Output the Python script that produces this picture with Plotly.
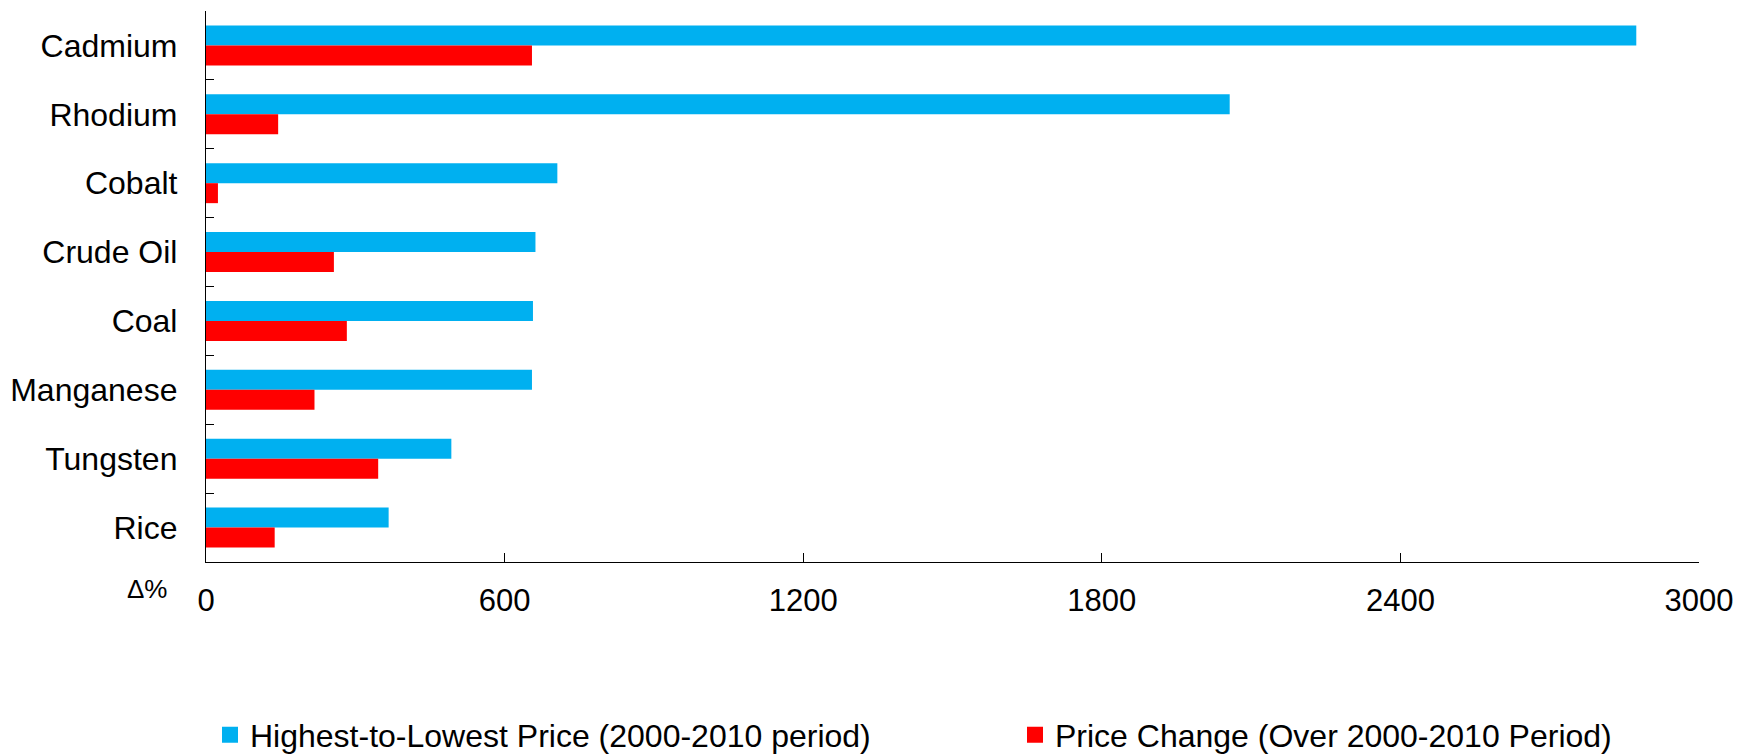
import plotly.graph_objects as go

categories = ["Cadmium", "Rhodium", "Cobalt", "Crude Oil", "Coal", "Manganese", "Tungsten", "Rice"]
high_low = [2874, 2057, 706, 662, 657, 655, 493, 367]
price_change = [655, 145, 24, 257, 283, 218, 346, 138]
series_names = ["Highest-to-Lowest Price (2000-2010 period)", "Price Change (Over 2000-2010 Period)"]
x_ticks = [0, 600, 1200, 1800, 2400, 3000]

FONT = "Liberation Sans, Arial, sans-serif"
BLUE = "#00B0F0"
RED = "#FF0000"
colors = [BLUE, RED]

fig = go.Figure()
fig.add_trace(go.Bar(y=categories, x=high_low, orientation="h", name=series_names[0],
                     marker=dict(color=BLUE, line=dict(width=0)), showlegend=False))
fig.add_trace(go.Bar(y=categories, x=price_change, orientation="h", name=series_names[1],
                     marker=dict(color=RED, line=dict(width=0)), showlegend=False))

# legend-only entries (square swatches), one legend per series
for i, (nm, col) in enumerate(zip(series_names, colors)):
    fig.add_trace(go.Scatter(x=[None], y=[None], mode="markers", name=nm,
                             marker=dict(symbol="square", size=16, color=col),
                             legend="legend" if i == 0 else "legend2",
                             showlegend=True, hoverinfo="skip"))

leg_common = dict(orientation="h", xref="container", yref="container",
                  xanchor="left", yanchor="middle",
                  font=dict(size=32, family=FONT, color="black"),
                  bgcolor="rgba(0,0,0,0)", itemsizing="trace")

fig.update_layout(
    width=1754, height=756,
    margin=dict(l=206, r=55, t=11, b=194),
    paper_bgcolor="white", plot_bgcolor="white",
    barmode="group", bargap=0.42, bargroupgap=0,
    font=dict(family=FONT, size=32, color="black"),
    showlegend=True,
    legend=dict(x=210 / 1754, y=0.028, **leg_common),
    legend2=dict(x=1015 / 1754, y=0.028, **leg_common),
)

fig.update_xaxes(
    range=[0, 3000], tickvals=x_ticks, ticktext=[str(v) for v in x_ticks],
    showline=True, linecolor="black", linewidth=1.3,
    ticks="inside", ticklen=9, tickcolor="black", tickwidth=1.3,
    showgrid=False, zeroline=False,
    tickfont=dict(size=31, family=FONT), ticklabelstandoff=11,
)
fig.update_yaxes(
    type="category", categoryorder="array", categoryarray=categories,
    autorange="reversed",
    showline=True, linecolor="black", linewidth=1.3,
    ticks="inside", ticklen=8, tickcolor="black", tickwidth=1.3,
    tickson="boundaries",
    showgrid=False, zeroline=False,
    tickfont=dict(size=32, family=FONT), ticklabelstandoff=21,
)

fig.add_annotation(text="Δ%", xref="paper", yref="paper",
                   x=(147 - 206) / 1493, y=-(589 - 562) / 551,
                   showarrow=False, xanchor="center", yanchor="middle",
                   font=dict(size=26, family=FONT, color="black"))

fig.write_html("out.html")
